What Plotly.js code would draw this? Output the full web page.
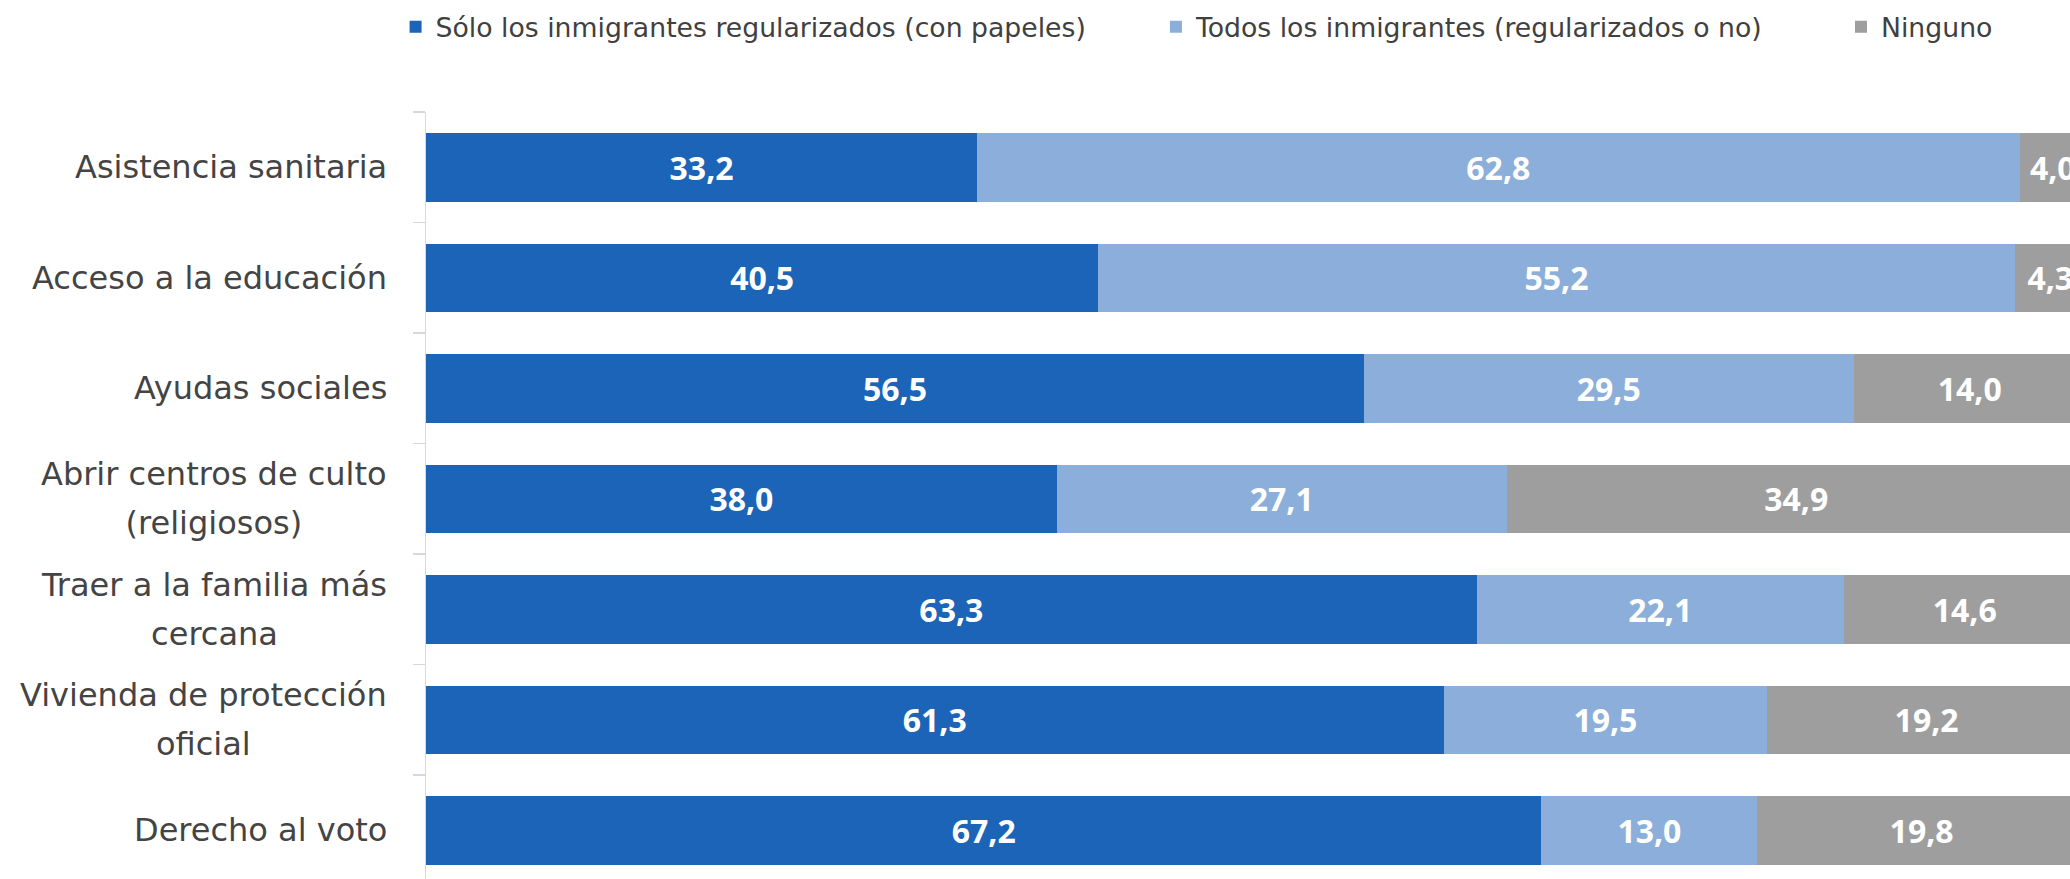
<!DOCTYPE html>
<html>
<head>
<meta charset="utf-8">
<script src="https://cdn.plot.ly/plotly-3.0.1.min.js"></script>
<style>
html, body { margin: 0; padding: 0; background: #ffffff; }
#chart { width: 2070px; height: 879px; }
</style>
</head>
<body>
<div id="chart"></div>
<script>
// ---- Data ----
const categories = [
  "Asistencia sanitaria",
  "Acceso a la educación",
  "Ayudas sociales",
  "Abrir centros de culto<br>(religiosos)",
  "Traer a la familia más<br>cercana",
  "Vivienda de protección<br>oficial",
  "Derecho al voto"
];
const seriesNames = [
  "Sólo los inmigrantes regularizados (con papeles)",
  "Todos los inmigrantes (regularizados o no)",
  "Ninguno"
];
const soloRegularizados = [33.2, 40.5, 56.5, 38.0, 63.3, 61.3, 67.2];
const todosInmigrantes  = [62.8, 55.2, 29.5, 27.1, 22.1, 19.5, 13.0];
const ninguno           = [4.0, 4.3, 14.0, 34.9, 14.6, 19.2, 19.8];

// ---- Styles ----
const seriesValues = [soloRegularizados, todosInmigrantes, ninguno];
const seriesColors = ["#1B64B7", "#8BAFDA", "#9E9E9E"];
const legendIds = ["legend", "legend2", "legend3"];
const legendX = [-0.0185, 0.444, 0.8607];
const labelFont = "DejaVu Sans";
const axisGray = "#d5d7e2";

const traces = seriesValues.map((vals, i) => ({
  type: "bar",
  orientation: "h",
  name: seriesNames[i],
  x: vals,
  y: categories,
  marker: { color: seriesColors[i], line: { width: 0 } },
  texttemplate: "%{x:.1f}",
  textposition: "inside",
  insidetextanchor: "middle",
  constraintext: "none",
  textfont: { family: "Open Sans", size: 32, color: "#ffffff", weight: 700 },
  hoverinfo: "skip",
  legend: legendIds[i]
}));

const annotations = categories.map(cat => ({
  xref: "paper", yref: "y",
  x: 0, y: cat,
  xanchor: "right", yanchor: "middle",
  xshift: -37,
  align: "center",
  showarrow: false,
  text: cat.split("<br>").map(l => '<span style="font-size:32px">' + l + '</span>').join("<br>"),
  font: { family: labelFont, size: 38, color: "#444444" }
}));

const layout = {
  width: 2070,
  height: 879,
  paper_bgcolor: "#ffffff",
  plot_bgcolor: "#ffffff",
  barmode: "stack",
  bargap: 0.38,
  separators: ",.",
  margin: { l: 426, r: 0, t: 112, b: 0, pad: 0, autoexpand: false },
  xaxis: {
    range: [0, 99.04],
    visible: false,
    fixedrange: true
  },
  yaxis: {
    type: "category",
    categoryorder: "array",
    categoryarray: categories,
    range: [6.44, -0.5],
    showline: true,
    linecolor: axisGray,
    linewidth: 1.5,
    ticks: "outside",
    tickson: "boundaries",
    ticklen: 12,
    tickwidth: 1.5,
    tickcolor: axisGray,
    showticklabels: false,
    showgrid: false,
    zeroline: false,
    fixedrange: true
  },
  annotations: annotations,
  showlegend: true
};
legendIds.forEach((id, i) => {
  layout[id] = {
    x: legendX[i], y: 1.111,
    xanchor: "left", yanchor: "middle",
    orientation: "h",
    bgcolor: "rgba(0,0,0,0)",
    borderwidth: 0,
    font: { family: labelFont, size: 26.7, color: "#404040" },
    itemclick: false, itemdoubleclick: false
  };
});

Plotly.newPlot("chart", traces, layout, { displayModeBar: false, staticPlot: true });
</script>
</body>
</html>
